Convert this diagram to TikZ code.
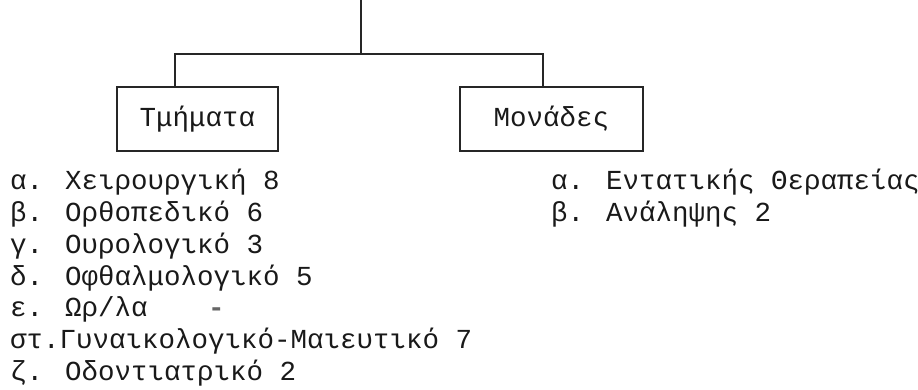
\documentclass[tikz,border=0pt]{standalone}
\usepackage{fontspec}
\setmainfont{Liberation Mono}
\begin{document}
\begin{tikzpicture}[x=1pt,y=-1pt]
  \tikzset{
    typed/.style={font=\fontsize{27.5}{33}\selectfont, text=black!90},
    unitbox/.style={typed, draw=black!85, line width=1.3pt, minimum height=64pt, inner sep=0pt},
    item/.style={typed, anchor=base west, inner sep=0pt},
    link/.style={draw=black!85, line width=1.3pt},
    smudge/.style={typed, font=\fontsize{27.5}{33}\selectfont\bfseries, text=black!60, anchor=base west, inner sep=0pt}
  }
  \useasboundingbox (0,0) rectangle (918,390);

  % the two branches
  \node[unitbox, minimum width=161pt] (tm) at (197.5,119) {Τμήματα};
  \node[unitbox, minimum width=183pt] (mo) at (551.5,119) {Μονάδες};

  % tree connectors
  \coordinate (top) at (361,0);
  \coordinate (fork) at (361,54);
  \coordinate (ld) at (175,54);
  \coordinate (rd) at (543,54);
  \draw[link] (top) -- (fork);
  \draw[link] (ld |- tm.north) -- (ld) -- (rd) -- (rd |- mo.north);

  % departments
  \node[item] (d1) at (10,190)   {α. Χειρουργική 8};
  \node[item] (d2) at (10,221.7) {β. Ορθοπεδικό 6};
  \node[item] (d3) at (10,253.3) {γ. Ουρολογικό 3};
  \node[item] (d4) at (10,285)   {δ. Οφθαλμολογικό 5};
  \node[item] (d5) at (10,316.7) {ε. Ωρ/λα};
  \node[smudge] (d5n) at (208,316.7) {-};
  \node[item] (d6) at (10,348.3) {στ.Γυναικολογικό-Μαιευτικό 7};
  \node[item] (d7) at (10,380)   {ζ. Οδοντιατρικό 2};

  % units
  \node[item] (u1) at (551,190)   {α. Εντατικής Θεραπείας};
  \node[item] (u2) at (551,221.7) {β. Ανάληψης 2};
\end{tikzpicture}
\end{document}
